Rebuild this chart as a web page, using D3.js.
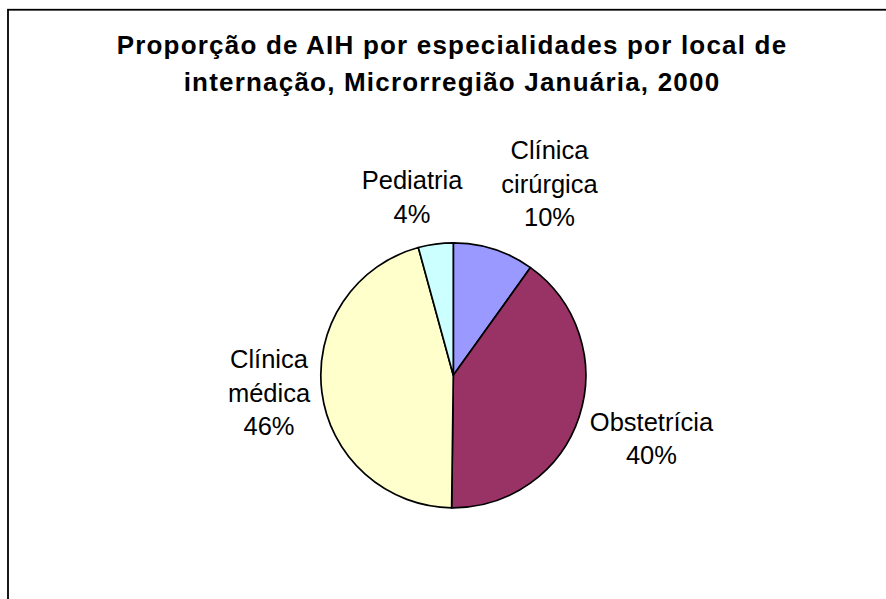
<html>
<head>
	<title>AIH por especialidades</title>
	<style>
		body { margin: 0; background: #ffffff; }
		text { font-family: "Liberation Sans", Arial, sans-serif; fill: #000000; }
	</style>
</head>
<body>

<div id="chart"></div>

<script src="https://d3js.org/d3.v7.min.js"></script>
<script>

	//chart data
	var categories = ['Clínica cirúrgica', 'Obstetrícia', 'Clínica médica', 'Pediatria'];
	var shares = [9.9, 40.3, 45.55, 4.25];
	//label lines as Excel wraps them
	var labelLines = [['Clínica', 'cirúrgica'], ['Obstetrícia'], ['Clínica', 'médica'], ['Pediatria']];
	var titleLines = ['Proporção de AIH por especialidades por local de', 'internação, Microrregião Januária, 2000'];

	//display variables
	var width = 886;
	var height = 599;
	var cx = 453.3, cy = 375.3, radius = 132.5;
	var colors = ['#9999FF', '#993366', '#FFFFCC', '#CCFFFF'];
	var lineH = 33.5;
	//small hand tweaks to mimic excel's best-fit label placement
	var nudge = [[21, 0], [-5, -4], [4.5, -14], [-8, 2.5]];

	var svg = d3.select('#chart')
		.append('svg')
		.attr('width', width)
		.attr('height', height);

	svg.append('rect').attr('width', width).attr('height', height).attr('fill', '#ffffff');

	//chart frame (runs off the right and bottom of the picture)
	svg.append('rect')
		.attr('x', 8).attr('y', 9.75)
		.attr('width', 1000).attr('height', 1000)
		.attr('fill', 'none')
		.attr('stroke', '#000')
		.attr('stroke-width', 1.8);

	//title
	svg.append('text')
		.attr('text-anchor', 'middle')
		.attr('font-size', 26)
		.attr('font-weight', 'bold')
		.attr('letter-spacing', 1.2)
		.selectAll('tspan')
		.data(titleLines)
		.enter()
		.append('tspan')
		.attr('x', 452)
		.attr('y', function(d, i){ return 54 + i * 37; })
		.text(function(d){ return d; });

	var data = categories.map(function(c, i){
		return { name: c, value: shares[i], lines: labelLines[i], color: colors[i] };
	});

	var pie = d3.pie().sort(null).value(function(d){ return d.value; });
	var arcs = pie(data);
	var total = d3.sum(shares);

	var arc = d3.arc().innerRadius(0).outerRadius(radius);
	var outer = d3.arc().innerRadius(radius + 16).outerRadius(radius + 16);

	var g = svg.append('g').attr('transform', 'translate(' + cx + ',' + cy + ')');

	g.selectAll('.slice')
		.data(arcs)
		.enter()
		.append('path')
		.attr('class', 'slice')
		.attr('d', arc)
		.attr('fill', function(d){ return d.data.color; })
		.attr('stroke', '#000')
		.attr('stroke-width', 1.7)
		.attr('stroke-linejoin', 'round');

	//labels: name lines plus the rounded percentage
	var labels = g.selectAll('.lbl')
		.data(arcs)
		.enter()
		.append('text')
		.attr('class', 'lbl')
		.attr('text-anchor', 'middle')
		.attr('font-size', 25.5);

	labels.each(function(d, i){
		var lines = d.data.lines.concat([Math.round(d.data.value / total * 100) + '%']);
		var t = d3.select(this);
		t.selectAll('tspan')
			.data(lines)
			.enter()
			.append('tspan')
			.attr('x', 0)
			.attr('y', function(l, j){ return 9 + (j - (lines.length - 1) / 2) * lineH; })
			.text(function(l){ return l; });

		var box = this.getBBox();
		var w = box.width, h = lines.length * lineH;
		var mid = (d.startAngle + d.endAngle) / 2;
		var p = outer.centroid(d);
		var clamp = function(v){ return Math.max(-1, Math.min(1, v)); };
		var x = p[0] + w / 2 * clamp(2 * Math.sin(mid)) + nudge[i][0];
		var y = p[1] + h / 2 * clamp(-2 * Math.cos(mid)) + nudge[i][1];
		t.attr('transform', 'translate(' + x + ',' + y + ')');
	});

</script>
</body>
</html>
